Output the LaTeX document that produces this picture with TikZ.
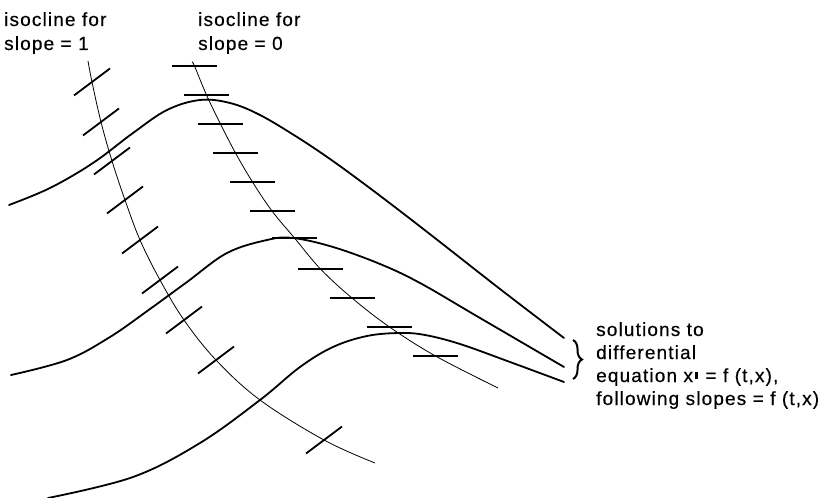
\documentclass[tikz,border=0pt]{standalone}
\usepackage{fontspec}
\setmainfont{Liberation Sans}
\newfontfamily\labfont[LetterSpace=6,FakeBold=0.4]{Liberation Sans}
\usetikzlibrary{decorations.pathreplacing}
\begin{document}
\begin{tikzpicture}[x=1bp,y=-1bp,
  solcurve/.style={line width=1.8bp, line join=round, line cap=round},
  isoline/.style={line width=0.8bp},
  ticksym/.style={line width=1.8bp},
  lab/.style={anchor=base west, inner sep=0pt, font=\labfont\fontsize{19bp}{24bp}\selectfont},
  labr/.style={anchor=base west, inner sep=0pt, font=\labfont\fontsize{19bp}{23bp}\selectfont}]
\useasboundingbox (0,0) rectangle (825,498);
\fill[white] (0,0) rectangle (825,498);

% isoclines
\draw[isoline] plot[smooth, tension=0.6] coordinates {(88,61) (92,82) (101,122) (112,161) (125,200) (140,240) (160,280) (184,320) (216,360) (260,400) (324,440) (375,463)};
\draw[isoline] plot[smooth, tension=0.6] coordinates {(192,62) (194.5,66) (206.5,95) (220.5,124) (235.5,153) (252.5,182) (272,211) (294.5,238) (320.5,269) (352,298) (389.5,327) (435.5,356) (498,388)};

% slope 1 ticks
\foreach \cx/\cy in {92/82,101/122,112/161,125/200,140/240,160/280,184/320,216/360,324/440}
  \draw[ticksym] (\cx-18,\cy+13.5) -- (\cx+18,\cy-13.5);
% slope 0 ticks
\foreach \cx/\cy in {194.5/66,206.5/95,220.5/124,235.5/153,252.5/182,272/211,294.5/238,320.5/269,352/298,389.5/327,435.5/356}
  \draw[ticksym] (\cx-22.5,\cy) -- (\cx+22.5,\cy);

% solution curves
\draw[solcurve] plot[smooth, tension=0.6] coordinates {(9,205) (50,188) (93,163) (133,133) (167,110) (200,100) (230,103) (260,115) (297,137) (330,159) (363,183) (400,211) (440,242) (500,289) (564,338)};
\draw[solcurve] plot[smooth, tension=0.6] coordinates {(11,375) (67,360) (110,337) (150,309) (187,282) (227,253) (267,240) (293,238) (333,247) (380,264) (420,283) (480,318) (564,367)};
\draw[solcurve] plot[smooth, tension=0.6] coordinates {(48,498) (133,477) (200,443) (260,400) (300,367) (333,347) (367,336) (400,333) (425,335) (460,344) (510,362) (564,382)};

% brace
\draw[line width=2bp, decorate, decoration={brace, amplitude=9bp}] (573,340) -- (573,379);

% labels
\node[lab] (iso1) at (4,26) {\begin{tabular}[t]{@{}l@{}}isocline for\\slope = 1\end{tabular}};
\node[lab] (iso0) at (198,26) {\begin{tabular}[t]{@{}l@{}}isocline for\\slope = 0\end{tabular}};
\node[labr] (sol) at (596,336) {\begin{tabular}[t]{@{}l@{}}solutions to\\differential\\equation x\kern2bp\rule[3bp]{2.5bp}{7bp}\hspace{8bp}= f (t,x),\\following slopes = f (t,x)\end{tabular}};
\end{tikzpicture}
\end{document}
